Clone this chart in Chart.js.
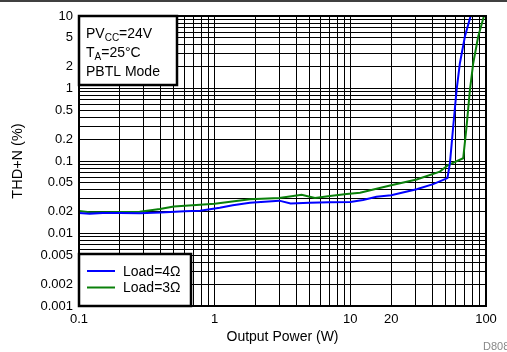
<!DOCTYPE html>
<html>
<head>
<meta charset="utf-8">
<script src="https://cdn.jsdelivr.net/npm/chart.js@4.4.1/dist/chart.umd.min.js"></script>
<style>
  html, body { margin: 0; padding: 0; background: #fff; }
  #thd { display: block; }
</style>
</head>
<body>
<canvas id="thd" width="507" height="352"></canvas>
<script>
// THD+N vs output power
const power4 = [0.1, 0.12, 0.15, 0.2, 0.28, 0.4, 0.6, 0.78, 1.09, 1.36, 1.82, 2.99, 3.63, 5.0, 7.0, 10, 12.4, 15.6, 20, 30.8, 40.8, 52, 54.2, 57.3, 60.7, 64.2, 69.9, 77];
const thd4 = [0.0192, 0.0188, 0.0192, 0.0192, 0.019, 0.0195, 0.0202, 0.0206, 0.0227, 0.0245, 0.0266, 0.0284, 0.026, 0.0265, 0.027, 0.0272, 0.029, 0.0322, 0.0336, 0.0407, 0.048, 0.058, 0.093, 0.297, 0.95, 2.23, 5.2, 10];

const power3 = [0.1, 0.12, 0.15, 0.28, 0.395, 0.5, 0.78, 1.0, 1.82, 2.99, 4.38, 5.48, 7.08, 9.4, 11.8, 15.6, 20, 30.8, 45.7, 52.6, 67.9, 71.9, 76.1, 80.5, 87.6, 96.6];
const thd3 = [0.0204, 0.0196, 0.0196, 0.0199, 0.0218, 0.0235, 0.025, 0.0257, 0.0296, 0.0309, 0.0343, 0.0309, 0.0329, 0.0351, 0.0365, 0.0415, 0.0462, 0.0557, 0.0713, 0.088, 0.109, 0.297, 0.95, 2.23, 5.2, 10];

const xLabels = [0.1, 1, 10, 20, 100];
const yLabels = [10, 5, 2, 1, 0.5, 0.2, 0.1, 0.05, 0.02, 0.01, 0.005, 0.002, 0.001];

const FONT = "'Liberation Sans', Arial, Helvetica, sans-serif";

function logGrid(min, max) {
  const out = [];
  for (let e = Math.round(Math.log10(min)); e < Math.round(Math.log10(max)); e++) {
    for (let m = 1; m <= 9; m++) out.push(+(m * Math.pow(10, e)).toPrecision(3));
  }
  out.push(max);
  return out;
}

function isLabel(list, v) {
  return list.some(l => Math.abs(l - v) / l < 1e-6);
}

const toPts = (xs, ys) => xs.map((x, i) => ({ x: x, y: ys[i] }));

const boxes = {
  id: "boxes",
  afterDraw(chart) {
    const ctx = chart.ctx;
    const a = chart.chartArea;
    ctx.save();

    // outer top rule
    ctx.strokeStyle = "#000";
    ctx.lineWidth = 1.5;
    ctx.beginPath();
    ctx.moveTo(0, 1);
    ctx.lineTo(507, 1);
    ctx.stroke();

    // plot frame
    ctx.lineWidth = 2;
    ctx.strokeRect(a.left, a.top, a.right - a.left, a.bottom - a.top);

    // conditions box
    ctx.fillStyle = "#fff";
    ctx.fillRect(a.left, a.top, 98, 69);
    ctx.lineWidth = 2.5;
    ctx.strokeRect(a.left, a.top, 98, 69);
    ctx.fillStyle = "#000";
    ctx.textBaseline = "alphabetic";
    ctx.textAlign = "left";
    const sub = (x, y, parts) => {
      for (const [txt, small] of parts) {
        ctx.font = (small ? "10px " : "14px ") + FONT;
        ctx.fillText(txt, x, small ? y + 3 : y);
        x += ctx.measureText(txt).width;
      }
    };
    sub(a.left + 7, a.top + 22, [["PV", false], ["CC", true], ["=24V", false]]);
    sub(a.left + 7, a.top + 41, [["T", false], ["A", true], ["=25°C", false]]);
    sub(a.left + 7, a.top + 60, [["PBTL Mode", false]]);

    // legend box
    const lx = a.left, ly = 254, lw = 112, lh = a.bottom - 254;
    ctx.fillStyle = "#fff";
    ctx.fillRect(lx, ly, lw, lh);
    ctx.strokeRect(lx, ly, lw, lh);
    const items = [["Load=4Ω", "#0000ff", 271], ["Load=3Ω", "#0a800a", 287.5]];
    ctx.font = "14px " + FONT;
    ctx.textBaseline = "middle";
    for (const [txt, col, y] of items) {
      ctx.strokeStyle = col;
      ctx.lineWidth = 2;
      ctx.beginPath();
      ctx.moveTo(lx + 8, y);
      ctx.lineTo(lx + 36, y);
      ctx.stroke();
      ctx.fillStyle = "#000";
      ctx.fillText(txt, lx + 44, y + 1);
    }

    // figure id
    ctx.fillStyle = "#888";
    ctx.font = "11px " + FONT;
    ctx.textBaseline = "alphabetic";
    ctx.fillText("D808", 483, 350);
    ctx.restore();
  }
};

new Chart(document.getElementById("thd"), {
  type: "line",
  data: {
    datasets: [
      { label: "Load=4Ω", data: toPts(power4, thd4), borderColor: "#0000ff", borderWidth: 2, pointRadius: 0, tension: 0 },
      { label: "Load=3Ω", data: toPts(power3, thd3), borderColor: "#0a800a", borderWidth: 2, pointRadius: 0, tension: 0 },
    ],
  },
  options: {
    responsive: false,
    animation: false,
    layout: { padding: { top: 16, right: 21, left: 0, bottom: 0 } },
    plugins: { legend: { display: false }, tooltip: { enabled: false } },
    scales: {
      x: {
        type: "logarithmic",
        min: 0.1,
        max: 100,
        afterBuildTicks: (s) => { s.ticks = logGrid(0.1, 100).map(v => ({ value: v })); },
        afterFit: (s) => { s.height = 46; },
        grid: { color: "#000", lineWidth: 1, drawTicks: false },
        border: { display: false },
        ticks: {
          autoSkip: false,
          maxRotation: 0,
          padding: 6,
          color: "#000",
          font: { family: FONT, size: 13 },
          callback: (v) => isLabel(xLabels, v) ? String(v) : "",
        },
        title: { display: true, text: "Output Power (W)", color: "#000", font: { family: FONT, size: 14 }, padding: { top: 0, bottom: 6 } },
      },
      y: {
        type: "logarithmic",
        min: 0.001,
        max: 10,
        afterBuildTicks: (s) => { s.ticks = logGrid(0.001, 10).map(v => ({ value: v })); },
        afterFit: (s) => { s.width = 79; },
        grid: { color: "#000", lineWidth: 1, drawTicks: false },
        border: { display: false },
        ticks: {
          autoSkip: false,
          padding: 6,
          color: "#000",
          font: { family: FONT, size: 13 },
          callback: (v) => isLabel(yLabels, v) ? String(v) : "",
        },
        title: { display: true, text: "THD+N (%)", color: "#000", font: { family: FONT, size: 14.5 }, padding: { top: 9, bottom: 0 } },
      },
    },
  },
  plugins: [boxes],
});
</script>
</body>
</html>
